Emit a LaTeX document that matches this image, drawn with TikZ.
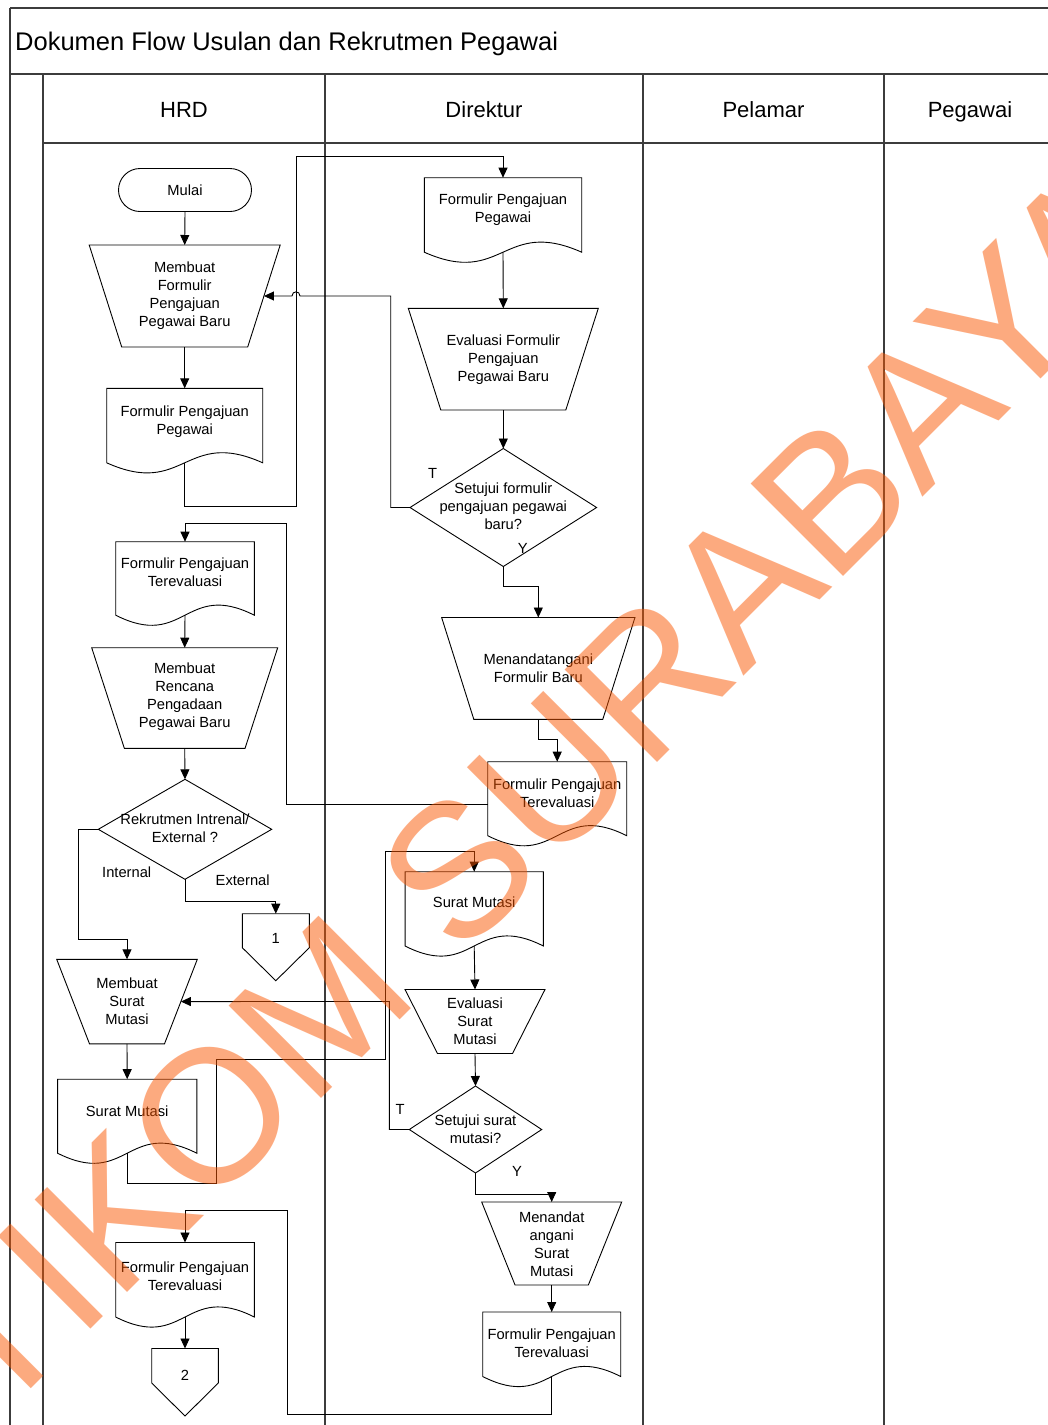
\documentclass[tikz,border=0pt]{standalone}
\usepackage{fontspec}
\setmainfont{Liberation Sans}
\usetikzlibrary{arrows.meta}
\definecolor{framecol}{RGB}{60,60,60}
\definecolor{wmcol}{RGB}{251,87,1}

\tikzset{
  shp/.style={draw=black, line width=0.9pt, line join=miter},
  conn/.style={draw=black, line width=0.9pt, -{Triangle[length=10pt,width=9pt]}},
  lbl/.style={inner sep=0pt, align=center, font=\fontsize{14.7}{18}\selectfont},
  lanehead/.style={inner sep=0pt, anchor=base, font=\fontsize{22}{26}\selectfont},
  frameline/.style={draw=framecol, line width=1.2pt},
}

% document shape: name, cx, top, width, height (top to wave baseline)
\newcommand{\DocS}[5]{%
  \pgfmathsetmacro{\dsL}{#2-#4/2}%
  \pgfmathsetmacro{\dsR}{#2+#4/2}%
  \pgfmathsetmacro{\dsB}{#3+#5}%
  \pgfmathsetmacro{\dsU}{#3+#5-35}%
  \pgfmathsetmacro{\dsD}{#3+#5+35}%
  \draw[shp] (\dsL,\dsB) -- (\dsL,#3) -- (\dsR,#3) -- (\dsR,\dsB) .. controls (#2,\dsU) and (#2,\dsD) .. (\dsL,\dsB) -- cycle;
  \coordinate (#1-n) at (#2,#3);
  \coordinate (#1-s) at (#2,\dsB);
}
% manual operation trapezoid: name, cx, top, top width, bottom width, height
\newcommand{\TrapS}[6]{%
  \pgfmathsetmacro{\tsA}{#2-#4/2}\pgfmathsetmacro{\tsB}{#2+#4/2}%
  \pgfmathsetmacro{\tsC}{#2-#5/2}\pgfmathsetmacro{\tsD}{#2+#5/2}%
  \pgfmathsetmacro{\tsY}{#3+#6}\pgfmathsetmacro{\tsM}{#3+#6/2}%
  \pgfmathsetmacro{\tsE}{#2+(#4+#5)/4}\pgfmathsetmacro{\tsW}{#2-(#4+#5)/4}%
  \draw[shp] (\tsA,#3) -- (\tsB,#3) -- (\tsD,\tsY) -- (\tsC,\tsY) -- cycle;
  \coordinate (#1-n) at (#2,#3);
  \coordinate (#1-s) at (#2,\tsY);
  \coordinate (#1-e) at (\tsE,\tsM);
  \coordinate (#1-w) at (\tsW,\tsM);
}
% decision diamond: name, cx, cy, half width, half height
\newcommand{\DiaS}[5]{%
  \pgfmathsetmacro{\qsL}{#2-#4}\pgfmathsetmacro{\qsR}{#2+#4}%
  \pgfmathsetmacro{\qsT}{#3-#5}\pgfmathsetmacro{\qsB}{#3+#5}%
  \draw[shp] (#2,\qsT) -- (\qsR,#3) -- (#2,\qsB) -- (\qsL,#3) -- cycle;
  \coordinate (#1-n) at (#2,\qsT);
  \coordinate (#1-s) at (#2,\qsB);
  \coordinate (#1-e) at (\qsR,#3);
  \coordinate (#1-w) at (\qsL,#3);
}
% off-page connector: name, cx, top, width, side height, point height
\newcommand{\OffS}[6]{%
  \pgfmathsetmacro{\osL}{#2-#4/2}\pgfmathsetmacro{\osR}{#2+#4/2}%
  \pgfmathsetmacro{\osS}{#3+#5}\pgfmathsetmacro{\osP}{#3+#5+#6}%
  \draw[shp] (\osL,#3) -- (\osR,#3) -- (\osR,\osS) -- (#2,\osP) -- (\osL,\osS) -- cycle;
  \coordinate (#1-n) at (#2,#3);
}

\begin{document}
\begin{tikzpicture}[x=1pt,y=-1pt]
\useasboundingbox (0,0) rectangle (1048,1425);
\clip (0,0) rectangle (1048,1425);
\fill[white] (0,0) rectangle (1048,1425);

% ---------- frame and lanes ----------
\draw[frameline] (10,8) -- (1070,8);
\draw[frameline] (10,8) -- (10,1440);
\draw[draw=framecol, line width=2pt] (10,74) -- (1070,74);
\draw[frameline] (43,74) -- (43,1440);
\draw[frameline] (43,143) -- (1070,143);
\draw[frameline] (325,74) -- (325,1440);
\draw[frameline] (643,74) -- (643,1440);
\draw[frameline] (884,74) -- (884,1440);
\draw[frameline] (1056,74) -- (1056,1440);

\node[anchor=base west, inner sep=0pt, font=\fontsize{25.5}{30}\selectfont] (title) at (15,50) {Dokumen Flow Usulan dan Rekrutmen Pegawai};
\node[lanehead] (hHRD) at (184,117) {HRD};
\node[lanehead] (hDir) at (484,117) {Direktur};
\node[lanehead] (hPel) at (763.5,117) {Pelamar};
\node[lanehead] (hPeg) at (970,117) {Pegawai};

% ---------- shapes ----------
\draw[shp, rounded corners=21.5pt] (118.5,168.5) rectangle (251.5,211.5);
\coordinate (mulai-s) at (185,211.5);
\node[lbl] (mulai) at (185,190) {Mulai};

\TrapS{tA}{184.7}{245}{191}{126}{102}
\node[lbl] (tAt) at (184.7,296) {Membuat\\Formulir\\Pengajuan\\Pegawai Baru};

\DocS{dH1}{184.7}{388.3}{156}{74.5}
\node[lbl] (dH1t) at (184.7,421.5) {Formulir Pengajuan\\Pegawai};

\DocS{dD1}{503}{177.7}{157.4}{74.5}
\node[lbl] (dD1t) at (503,209.5) {Formulir Pengajuan\\Pegawai};

\TrapS{tB}{503.3}{308.3}{190}{125}{101.7}
\node[lbl] (tBt) at (503.3,360) {Evaluasi Formulir\\Pengajuan\\Pegawai Baru};

\DiaS{qA}{503.3}{507.5}{93.3}{59}
\node[lbl] (qAt) at (503.3,506.5) {Setujui formulir\\pengajuan pegawai\\baru?};

\TrapS{tC}{538.3}{617.5}{193.3}{129}{101.8}
\node[lbl] (tCt) at (538.3,668) {Menandatangani\\Formulir Baru};

\DocS{dD2}{557.2}{761.7}{139}{74}
\coordinate (dD2-l) at (487.7,804);
\node[lbl] (dD2t) at (557.2,793) {Formulir Pengajuan\\Terevaluasi};

\DocS{dH2}{185}{541.7}{138.6}{73.5}
\node[lbl] (dH2t) at (185,572) {Formulir Pengajuan\\Terevaluasi};

\TrapS{tD}{184.7}{647.7}{186}{120.7}{100.6}
\node[lbl] (tDt) at (184.7,697) {Membuat\\Rencana\\Pengadaan\\Pegawai Baru};

\DiaS{qB}{185}{829.3}{86.7}{50}
\node[lbl] (qBt) at (185,828) {Rekrutmen Intrenal/\\External ?};

\OffS{o1}{275.8}{913.7}{67}{34}{33}
\node[lbl] (o1t) at (275.8,938) {1};

\TrapS{tE}{127}{959.3}{140.6}{75}{84.5}
\node[lbl] (tEt) at (127,1001) {Membuat\\Surat\\Mutasi};

\DocS{dH3}{127.2}{1079.2}{139.2}{74}
\node[lbl] (dH3t) at (127.2,1111) {Surat Mutasi};

\DocS{dD3}{474.2}{871.7}{138.3}{74.3}
\node[lbl] (dD3t) at (474.2,902) {Surat Mutasi};

\TrapS{tF}{475}{989.5}{140}{75}{64}
\node[lbl] (tFt) at (475,1021) {Evaluasi\\Surat\\Mutasi};

\DiaS{qC}{475.5}{1129.5}{66.2}{43.5}
\node[lbl] (qCt) at (475.5,1129) {Setujui surat\\mutasi?};

\TrapS{tG}{551.7}{1202}{140}{73.3}{83}
\node[lbl] (tGt) at (551.7,1244) {Menandat\\angani\\Surat\\Mutasi};

\DocS{dD4}{551.7}{1312}{138}{64.5}
\node[lbl] (dD4t) at (551.7,1343) {Formulir Pengajuan\\Terevaluasi};

\DocS{dH4}{185}{1242.5}{138.6}{74.5}
\node[lbl] (dH4t) at (185,1276) {Formulir Pengajuan\\Terevaluasi};

\OffS{o2}{185}{1348.5}{66.6}{34.5}{33}
\node[lbl] (o2t) at (185,1375) {2};

% ---------- branch labels ----------
\node[lbl] (lT1) at (432.7,473.3) {T};
\node[lbl] (lY1) at (522.7,548.3) {Y};
\node[lbl] (lInt) at (126.7,872.7) {Internal};
\node[lbl] (lExt) at (242.7,880) {External};
\node[lbl] (lT2) at (400,1109) {T};
\node[lbl] (lY2) at (517,1171) {Y};

% ---------- connectors ----------
\draw[conn] (mulai-s) -- (tA-n);
\draw[conn] (tA-s) -- (dH1-n);
\draw[conn] (dH1-s) |- (296,506.5) -- (296,156) -| (dD1-n);
\draw[conn] (dD1-s) -- (tB-n);
\draw[conn] (tB-s) -- (qA-n);
\draw[conn] (qA-w) -| (390.7,296) -- (300,296) .. controls (300,290.5) and (292,290.5) .. (292,296) -- (tA-e);
\draw[conn] (qA-s) -- ++(0,20) -| (tC-n);
\draw[conn] (tC-s) -- ++(0,20) -| (dD2-n);
\draw[conn] (dD2-l) -| (286,523.3) -| (dH2-n);
\draw[conn] (dH2-s) -- (tD-n);
\draw[conn] (tD-s) -- (qB-n);
\draw[conn] (qB-w) -| (78.3,939.3) -| (tE-n);
\draw[conn] (qB-s) -- ++(0,21.7) -| (o1-n);
\draw[conn] (tE-s) -- (dH3-n);
\draw[conn] (dH3-s) -- ++(0,30.5) -| (216,1059.3) -| (385.6,851.7) -| (dD3-n);
\draw[conn] (dD3-s) -- (tF-n);
\draw[conn] (tF-s) -- (qC-n);
\draw[conn] (qC-w) -| (389.3,1001.5) -- (tE-e);
\draw[conn] (qC-s) -- ++(0,21.5) -| (tG-n);
\draw[conn] (tG-s) -- (dD4-n);
\draw[conn] (dD4-s) |- (287.3,1414.5) -- (287.3,1210) -| (dH4-n);
\draw[conn] (dH4-s) -- (o2-n);

% ---------- watermark ----------
\node[anchor=base west, inner sep=0pt, rotate=45, text=wmcol, text opacity=0.5,
      font=\fontsize{190}{190}\selectfont] (wm) at (-93,1513) {STIKOM SURABAYA};
\end{tikzpicture}
\end{document}
